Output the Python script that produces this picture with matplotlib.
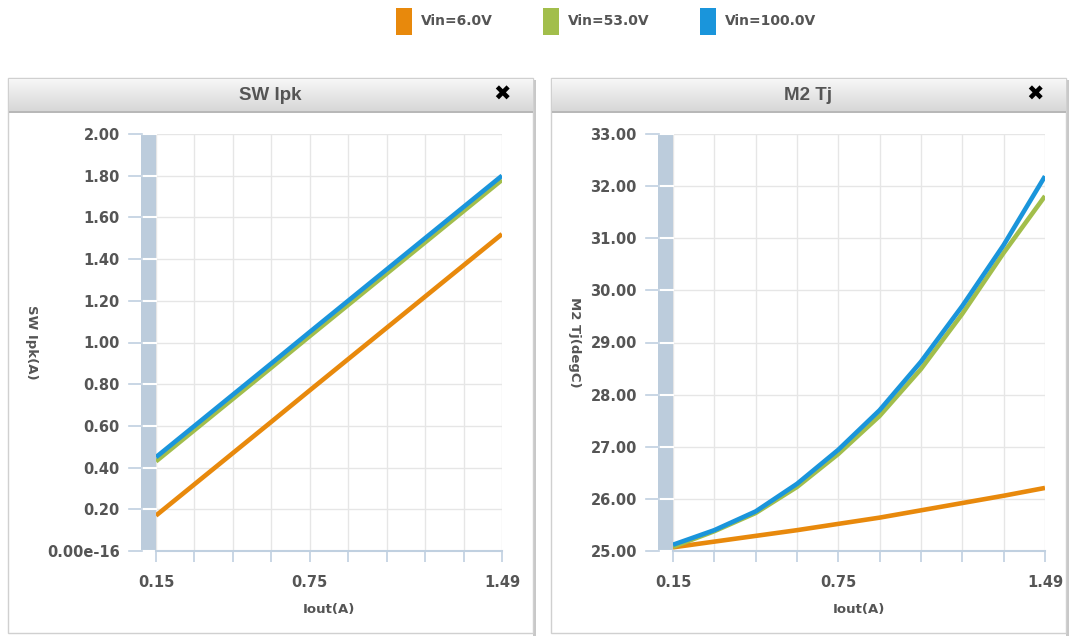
import matplotlib
matplotlib.use('Agg')
import matplotlib.pyplot as plt
from matplotlib.patches import Rectangle
import numpy as np

plt.rcParams['font.family'] = ['DejaVu Sans']

# data
iout = [0.15, 0.299, 0.448, 0.597, 0.745, 0.894, 1.043, 1.192, 1.341, 1.49]
xtick_labels = {0: '0.15', 4: '0.75', 9: '1.49'}
series = ['Vin=6.0V', 'Vin=53.0V', 'Vin=100.0V']
colors = ['#E8890C', '#A2BE4B', '#1A95DB']

sw_ipk = {
    'Vin=6.0V': [0.17, 0.32, 0.47, 0.62, 0.77, 0.92, 1.07, 1.22, 1.37, 1.52],
    'Vin=53.0V': [0.43, 0.58, 0.73, 0.88, 1.03, 1.18, 1.33, 1.48, 1.63, 1.78],
    'Vin=100.0V': [0.45, 0.60, 0.75, 0.90, 1.05, 1.20, 1.35, 1.50, 1.65, 1.80],
}
m2_tj = {
    'Vin=6.0V': [25.07, 25.18, 25.29, 25.40, 25.52, 25.64, 25.78, 25.92, 26.06, 26.21],
    'Vin=53.0V': [25.08, 25.38, 25.73, 26.23, 26.86, 27.59, 28.49, 29.55, 30.72, 31.81],
    'Vin=100.0V': [25.12, 25.40, 25.76, 26.29, 26.94, 27.70, 28.63, 29.70, 30.87, 32.19],
}

W, H = 1070, 636
fig = plt.figure(figsize=(W / 100, H / 100), dpi=100)
fig.patch.set_facecolor('white')


def fr(x, y, w, h):
    # pixel box (top-left origin) -> figure fraction
    return [x / W, 1 - (y + h) / H, w / W, h / H]


text_col = '#555555'
axis_col = '#C0D0E0'
grid_col = '#E6E6E6'


def panel(x0, x1, title):
    # shadow + frame
    sh = fr(x1, 80, 3, 556)
    fig.add_artist(Rectangle((sh[0], sh[1]), sh[2], sh[3], transform=fig.transFigure,
                             facecolor='#C8C8C8', edgecolor='none', zorder=0))
    b = fr(x0, 78, x1 - x0, 555)
    fig.add_artist(Rectangle((b[0], b[1]), b[2], b[3], transform=fig.transFigure,
                             facecolor='white', edgecolor='#D0D0D0', lw=1, zorder=0))
    # title bar with gradient
    tax = fig.add_axes(fr(x0 + 1, 79, x1 - x0 - 1, 33))
    grad = np.linspace(0, 1, 50).reshape(-1, 1)
    tax.imshow(grad, aspect='auto', cmap=matplotlib.colors.LinearSegmentedColormap.from_list(
        'g', ['#F7F7F7', '#D6D6D6']), extent=[0, 1, 0, 1])
    tax.set_axis_off()
    lb = fr(x0 + 1, 111, x1 - x0 - 1, 2)
    fig.add_artist(Rectangle((lb[0], lb[1]), lb[2], lb[3], transform=fig.transFigure,
                             facecolor='#B8B8B8', edgecolor='none'))
    cx = (x0 + x1) / 2
    fig.text(cx / W, 1 - 96 / H, title, ha='center', va='center', fontsize=13.5,
             fontweight='bold', color='#555555', family='Liberation Sans')
    fig.text((x1 - 31) / W, 1 - 95 / H, '\u2716', ha='center', va='center', fontsize=15,
             color='black', family='DejaVu Sans')


def chart(ax_left, ax_right, data, ymin, ymax, ystep, ylabel, ylabel_x, zero_label=None):
    ax = fig.add_axes(fr(ax_left, 134, ax_right - ax_left, 417))
    ax.set_facecolor('none')
    for s, c in zip(series, colors):
        ax.plot(iout, data[s], color=c, lw=3.3, solid_capstyle='butt', zorder=3)
    ax.set_xlim(iout[0], iout[-1])
    ax.set_ylim(ymin, ymax)
    yt = np.round(np.arange(ymin, ymax + ystep / 2, ystep), 4)
    ax.set_yticks(yt)
    labs = ['%.2f' % v for v in yt]
    if zero_label:
        labs[0] = zero_label
    ax.set_yticklabels(labs)
    ax.set_xticks(iout)
    ax.set_xticklabels([xtick_labels.get(i, '') for i in range(len(iout))])
    ax.grid(True, color=grid_col, lw=1)
    ax.set_axisbelow(True)
    for sp in ['top', 'right', 'left']:
        ax.spines[sp].set_visible(False)
    ax.spines['bottom'].set_color(axis_col)
    ax.spines['bottom'].set_linewidth(1.5)
    ax.tick_params(axis='x', length=8, width=1.2, color=axis_col, pad=9,
                   labelsize=10.5, labelcolor=text_col)
    ax.tick_params(axis='y', length=0, pad=26, labelsize=10.5, labelcolor=text_col)
    for t in ax.get_xticklabels() + ax.get_yticklabels():
        t.set_fontweight('bold')
    # band left of plot
    bw = 15 / (ax_right - ax_left)
    ax.add_patch(Rectangle((-bw, 0), bw, 1, transform=ax.transAxes, facecolor='#BCCCDC',
                           edgecolor='none', clip_on=False, zorder=1))
    ytr = ax.get_yaxis_transform()
    tw = 12 / (ax_right - ax_left)
    for v in yt:
        ax.plot([-bw, 0], [v, v], color='white', lw=1.5, transform=ytr, clip_on=False, zorder=2)
        ax.plot([-bw - tw, -bw + 0.004], [v, v], color=axis_col, lw=1.2, transform=ytr,
                clip_on=False, zorder=2)
    ax.set_xlabel('Iout(A)', fontsize=9.5, fontweight='bold', color=text_col, labelpad=10)
    fig.text(ylabel_x / W, 1 - 342 / H, ylabel, rotation=270, ha='center', va='center',
             fontsize=9.5, fontweight='bold', color=text_col)
    return ax


panel(8, 533, 'SW Ipk')
panel(551, 1066, 'M2 Tj')
chart(156, 502, sw_ipk, 0.0, 2.0, 0.2, 'SW Ipk(A)', 31, zero_label='0.00e-16')
chart(673, 1045, m2_tj, 25.0, 33.0, 1.0, 'M2 Tj(degC)', 574)

# legend
leg_x = [396, 543, 700]
for s, c, lx in zip(series, colors, leg_x):
    r = fr(lx, 8, 16, 27)
    fig.add_artist(Rectangle((r[0], r[1]), r[2], r[3], transform=fig.transFigure,
                             facecolor=c, edgecolor='none'))
    fig.text((lx + 25) / W, 1 - 21 / H, s, ha='left', va='center', fontsize=10,
             fontweight='bold', color=text_col)

fig.savefig('out.png', dpi=100)
